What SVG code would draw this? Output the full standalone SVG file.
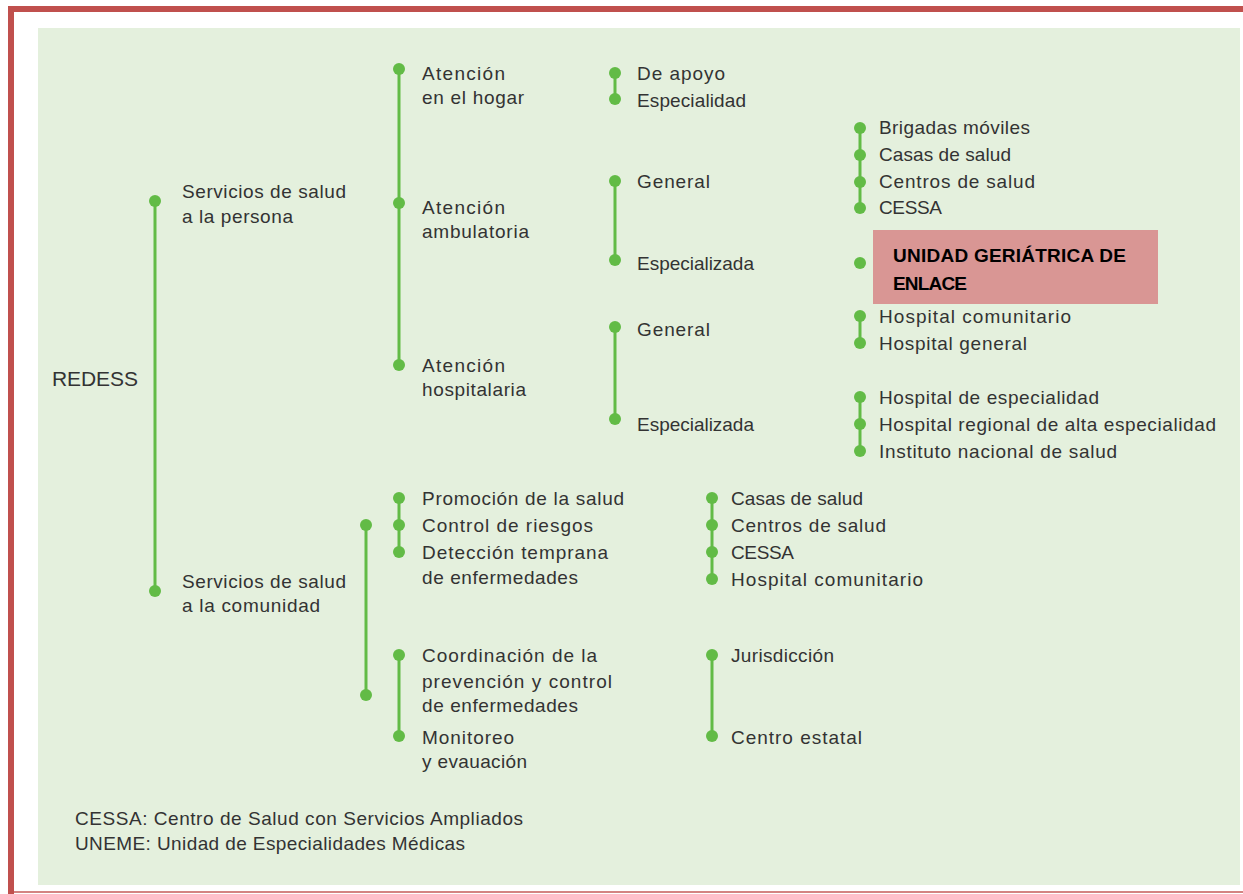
<svg xmlns="http://www.w3.org/2000/svg" width="1243" height="894" viewBox="0 0 1243 894">
<style>
text{font-family:"Liberation Sans",Arial,sans-serif;font-size:19px;fill:#333333}
.big{font-size:21px}
.b{font-family:"Liberation Sans",Arial,sans-serif;font-weight:bold;font-size:19px;fill:#000}
.ln{stroke:#62bb46;stroke-width:3;fill:none}
.d{fill:#62bb46}
</style>
<rect x="0" y="0" width="1243" height="894" fill="#ffffff"/>
<rect x="38" y="28" width="1202" height="857" fill="#e4f0dd"/>
<rect x="8" y="6" width="1235" height="6" fill="#c0504d"/>
<rect x="8" y="6" width="6" height="888" fill="#c0504d"/>
<rect x="8" y="891" width="1235" height="2" fill="#c0504d" opacity="0.7"/>

<g id="connectors">
<line class="ln" x1="155" y1="201" x2="155" y2="591"/>
<line class="ln" x1="399" y1="69" x2="399" y2="365"/>
<line class="ln" x1="615" y1="73" x2="615" y2="99"/>
<line class="ln" x1="615" y1="181" x2="615" y2="260"/>
<line class="ln" x1="615" y1="327" x2="615" y2="419"/>
<line class="ln" x1="860" y1="128" x2="860" y2="208"/>
<line class="ln" x1="860" y1="316" x2="860" y2="343"/>
<line class="ln" x1="860" y1="397" x2="860" y2="451"/>
<line class="ln" x1="366" y1="525" x2="366" y2="695"/>
<line class="ln" x1="399" y1="498" x2="399" y2="552"/>
<line class="ln" x1="399" y1="655" x2="399" y2="736"/>
<line class="ln" x1="712" y1="498" x2="712" y2="579"/>
<line class="ln" x1="712" y1="655" x2="712" y2="736"/>
</g>

<g id="redess"><text class="big" x="52" y="386" textLength="86">REDESS</text></g>

<g id="n-persona"><circle class="d" cx="155" cy="201" r="6"/>
<text x="182" y="198" textLength="164">Servicios de salud</text><text x="182" y="223" textLength="111">a la persona</text></g>
<g id="n-comunidad"><circle class="d" cx="155" cy="591" r="6"/>
<text x="182" y="588" textLength="164">Servicios de salud</text><text x="182" y="612" textLength="138">a la comunidad</text></g>

<g id="n-hogar"><circle class="d" cx="399" cy="69" r="6"/>
<text x="422" y="80" textLength="83">Atención</text><text x="422" y="104" textLength="102">en el hogar</text></g>
<g id="n-ambulatoria"><circle class="d" cx="399" cy="203" r="6"/>
<text x="422" y="214" textLength="83">Atención</text><text x="422" y="238" textLength="107">ambulatoria</text></g>
<g id="n-hospitalaria"><circle class="d" cx="399" cy="365" r="6"/>
<text x="422" y="372" textLength="83">Atención</text><text x="422" y="396" textLength="104">hospitalaria</text></g>

<g id="n-apoyo"><circle class="d" cx="615" cy="73" r="6"/><text x="637" y="80" textLength="88">De apoyo</text></g>
<g id="n-especialidad"><circle class="d" cx="615" cy="99" r="6"/><text x="637" y="107" textLength="109">Especialidad</text></g>
<g id="n-amb-general"><circle class="d" cx="615" cy="181" r="6"/><text x="637" y="188" textLength="73">General</text></g>
<g id="n-amb-esp"><circle class="d" cx="615" cy="260" r="6"/><text x="637" y="270" textLength="117">Especializada</text></g>
<g id="n-hosp-general"><circle class="d" cx="615" cy="327" r="6"/><text x="637" y="336" textLength="73">General</text></g>
<g id="n-hosp-esp"><circle class="d" cx="615" cy="419" r="6"/><text x="637" y="431" textLength="117">Especializada</text></g>

<g id="n-brigadas"><circle class="d" cx="860" cy="128" r="6"/><text x="879" y="134" textLength="151">Brigadas móviles</text></g>
<g id="n-casas1"><circle class="d" cx="860" cy="155" r="6"/><text x="879" y="161" textLength="132">Casas de salud</text></g>
<g id="n-centros1"><circle class="d" cx="860" cy="182" r="6"/><text x="879" y="188" textLength="156">Centros de salud</text></g>
<g id="n-cessa1"><circle class="d" cx="860" cy="208" r="6"/><text x="879" y="214" textLength="63">CESSA</text></g>
<g id="n-unidad"><circle class="d" cx="860" cy="263" r="6"/>
<rect x="873" y="230" width="285" height="74" fill="#d99694"/>
<text class="b" x="893" y="262" textLength="233">UNIDAD GERIÁTRICA DE</text><text class="b" x="893" y="290" textLength="74">ENLACE</text></g>
<g id="n-hcom1"><circle class="d" cx="860" cy="316" r="6"/><text x="879" y="323" textLength="192">Hospital comunitario</text></g>
<g id="n-hgen"><circle class="d" cx="860" cy="343" r="6"/><text x="879" y="350" textLength="148">Hospital general</text></g>
<g id="n-hesp"><circle class="d" cx="860" cy="397" r="6"/><text x="879" y="404" textLength="220">Hospital de especialidad</text></g>
<g id="n-hreg"><circle class="d" cx="860" cy="424" r="6"/><text x="879" y="431" textLength="337">Hospital regional de alta especialidad</text></g>
<g id="n-inst"><circle class="d" cx="860" cy="451" r="6"/><text x="879" y="458" textLength="238">Instituto nacional de salud</text></g>

<g id="n-com-a"><circle class="d" cx="366" cy="525" r="6"/></g>
<g id="n-com-b"><circle class="d" cx="366" cy="695" r="6"/></g>

<g id="n-promocion"><circle class="d" cx="399" cy="498" r="6"/><text x="422" y="505" textLength="202">Promoción de la salud</text></g>
<g id="n-control"><circle class="d" cx="399" cy="525" r="6"/><text x="422" y="532" textLength="171">Control de riesgos</text></g>
<g id="n-deteccion"><circle class="d" cx="399" cy="552" r="6"/><text x="422" y="559" textLength="186">Detección temprana</text><text x="422" y="584" textLength="156">de enfermedades</text></g>
<g id="n-coord"><circle class="d" cx="399" cy="655" r="6"/><text x="422" y="662" textLength="175">Coordinación de la</text><text x="422" y="688" textLength="190">prevención y control</text><text x="422" y="712" textLength="156">de enfermedades</text></g>
<g id="n-monitoreo"><circle class="d" cx="399" cy="736" r="6"/><text x="422" y="744" textLength="92">Monitoreo</text><text x="422" y="768" textLength="105">y evauación</text></g>

<g id="n-casas2"><circle class="d" cx="712" cy="498" r="6"/><text x="731" y="505" textLength="132">Casas de salud</text></g>
<g id="n-centros2"><circle class="d" cx="712" cy="525" r="6"/><text x="731" y="532" textLength="155">Centros de salud</text></g>
<g id="n-cessa2"><circle class="d" cx="712" cy="552" r="6"/><text x="731" y="559" textLength="63">CESSA</text></g>
<g id="n-hcom2"><circle class="d" cx="712" cy="579" r="6"/><text x="731" y="586" textLength="192">Hospital comunitario</text></g>
<g id="n-jurisdiccion"><circle class="d" cx="712" cy="655" r="6"/><text x="731" y="662" textLength="103">Jurisdicción</text></g>
<g id="n-estatal"><circle class="d" cx="712" cy="736" r="6"/><text x="731" y="744" textLength="131">Centro estatal</text></g>

<g id="footer">
<text x="75" y="825" textLength="448">CESSA: Centro de Salud con Servicios Ampliados</text>
<text x="75" y="850" textLength="390">UNEME: Unidad de Especialidades Médicas</text>
</g>
</svg>
